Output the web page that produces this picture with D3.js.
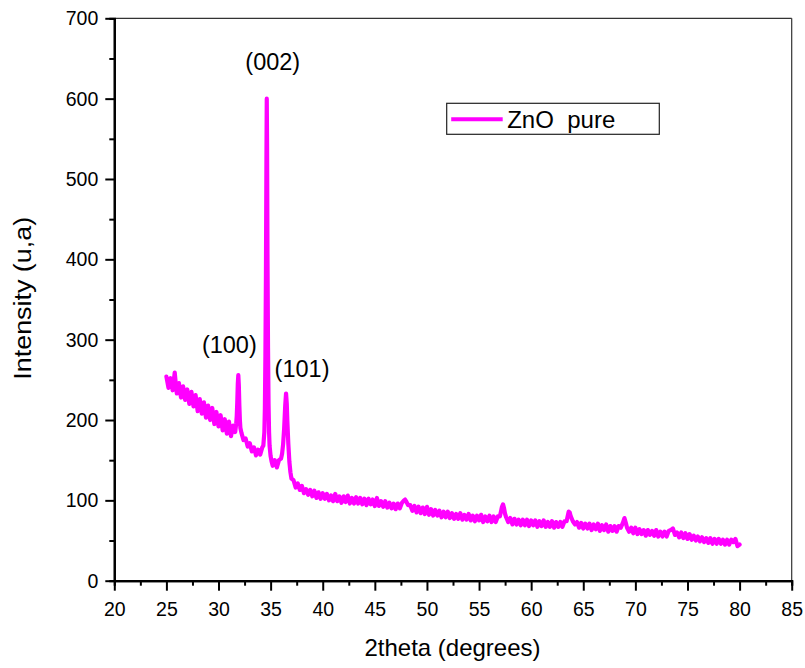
<!DOCTYPE html>
<html>
<head>
<meta charset="utf-8">
<script src="https://cdn.jsdelivr.net/npm/d3@7"></script>
<style>
  html, body { margin: 0; padding: 0; background: #fff; }
  svg { display: block; font-family: "Liberation Sans", Arial, sans-serif; }
</style>
</head>
<body>
<svg id="chart" width="805" height="668"></svg>
<script>
// XRD scan of pure ZnO: [2theta (deg), intensity (a.u.)]
const scan = [
  [25.0,254],[25.2,240],[25.4,252],[25.6,237],[25.8,259],[25.9,245],[26.0,233],[26.2,246],[26.4,228],[26.6,242],
  [26.8,225],[27.0,238],[27.2,220],[27.4,235],[27.6,217],[27.8,231],[28.0,211],[28.2,226],[28.4,208],[28.6,222],
  [28.8,203],[29.0,218],[29.2,200],[29.4,215],[29.6,195],[29.8,210],[30.0,192],[30.2,206],[30.4,187],[30.6,201],
  [30.8,183],[31.0,198],[31.2,180],[31.4,193],[31.6,185],
  // (100)
  [31.7,196],[31.75,205],[31.8,222],[31.85,245],[31.9,256],[31.95,243],[32.0,218],[32.05,200],[32.1,190],
  [32.2,184],[32.4,175],[32.6,177],[32.8,167],[33.0,171],[33.2,161],[33.4,166],[33.6,156],[33.8,163],[34.0,157],
  [34.2,166],[34.3,168],
  // (002)
  [34.4,185],[34.45,215],[34.5,280],[34.55,380],[34.6,530],[34.63,600],[34.66,540],[34.7,400],[34.75,290],
  [34.8,220],[34.85,185],[34.9,168],[35.0,155],[35.1,148],[35.2,143],[35.4,150],[35.6,141],[35.8,150],[36.0,152],
  // (101)
  [36.1,158],[36.2,170],[36.3,190],[36.4,218],[36.48,233],[36.55,220],[36.6,200],[36.7,170],[36.8,148],[36.9,135],
  [37.0,127],[37.2,125],[37.4,116],[37.6,121],[37.8,113],[38.0,118],[38.2,109],[38.4,114],[38.6,107],[38.8,113],
  [39.0,105],[39.2,112],[39.4,103],[39.6,110],[39.8,102],[40.0,109],[40.2,102],[40.4,108],[40.6,100],[40.8,106],
  [41.0,99],[41.2,108],[41.4,99],[41.6,105],[41.8,97],[42.0,105],[42.2,98],[42.4,106],[42.6,96],[42.8,103],
  [43.0,96],[43.2,104],[43.4,96],[43.6,103],[43.8,95],[44.0,102],[44.2,94],[44.4,102],[44.6,95],[44.8,101],
  [45.0,93],[45.2,103],[45.4,93],[45.6,99],[45.8,92],[46.0,99],[46.2,91],[46.4,97],[46.6,90],[46.8,96],
  [47.0,89],[47.2,96],[47.4,90],[47.6,97],[47.8,100],[47.9,101],[48.0,99],[48.2,94],[48.4,94],[48.6,87],
  [48.8,93],[49.0,85],[49.2,92],[49.4,84],[49.6,91],[49.8,83],[50.0,92],[50.2,82],[50.4,89],[50.6,81],
  [50.8,88],[51.0,81],[51.2,87],[51.4,79],[51.6,86],[51.8,79],[52.0,86],[52.2,78],[52.4,84],[52.6,77],
  [52.8,83],[53.0,77],[53.2,84],[53.4,76],[53.6,82],[53.8,76],[54.0,83],[54.2,75],[54.4,81],[54.6,74],
  [54.8,81],[55.0,75],[55.2,82],[55.4,73],[55.6,80],[55.8,74],[56.0,81],[56.2,73],[56.4,80],[56.6,73],
  [56.8,80],[57.0,80],[57.1,86],[57.2,92],[57.3,95],[57.4,90],[57.5,83],[57.6,79],[57.8,73],[58.0,78],
  [58.2,70],[58.4,77],[58.6,70],[58.8,76],[59.0,69],[59.2,76],[59.4,69],[59.6,76],[59.8,68],[60.0,75],
  [60.2,69],[60.4,75],[60.6,67],[60.8,74],[61.0,68],[61.2,75],[61.4,67],[61.6,73],[61.8,67],[62.0,74],
  [62.2,66],[62.4,73],[62.6,67],[62.8,73],[63.0,67],[63.2,74],[63.4,74],[63.5,80],[63.6,86],[63.7,85],
  [63.8,80],[64.0,74],[64.2,70],[64.4,73],[64.6,66],[64.8,72],[65.0,65],[65.2,71],[65.4,65],[65.6,71],
  [65.8,63],[66.0,70],[66.2,64],[66.4,71],[66.6,62],[66.8,69],[67.0,63],[67.2,70],[67.4,61],[67.6,68],
  [67.8,62],[68.0,68],[68.2,61],[68.4,68],[68.6,66],[68.8,72],[68.95,78],[69.1,71],[69.2,66],[69.4,61],
  [69.6,66],[69.8,59],[70.0,66],[70.2,58],[70.4,64],[70.6,58],[70.8,63],[71.0,56],[71.2,63],[71.4,57],
  [71.6,62],[71.8,56],[72.0,63],[72.2,55],[72.4,61],[72.6,55],[72.8,61],[73.0,55],[73.2,62],[73.4,63],
  [73.6,65],[73.8,57],[74.0,60],[74.2,54],[74.4,60],[74.6,53],[74.8,59],[75.0,52],[75.2,58],[75.4,51],
  [75.6,56],[75.8,50],[76.0,55],[76.2,49],[76.4,54],[76.6,48],[76.8,53],[77.0,47],[77.2,53],[77.4,46],
  [77.6,52],[77.8,46],[78.0,52],[78.2,46],[78.4,51],[78.6,45],[78.8,51],[79.0,45],[79.2,51],[79.4,48],
  [79.6,52],[79.8,43],[80.0,45]
];

const xTicks = [20, 25, 30, 35, 40, 45, 50, 55, 60, 65, 70, 75, 80, 85];
const yTicks = [0, 100, 200, 300, 400, 500, 600, 700];
const peakLabels = [
  { text: "(100)", x: 31.9, y: 256 },
  { text: "(002)", x: 34.63, y: 600 },
  { text: "(101)", x: 36.48, y: 233 }
];
const seriesName = "ZnO  pure";

const svg = d3.select("#chart");
const plotL = 114.3, plotR = 791.7, plotT = 18.3, plotB = 580.7;

const x = d3.scaleLinear().domain([20, 85]).range([plotL, plotR]);
const y = d3.scaleLinear().domain([0, 700]).range([plotB, plotT]);

// frame: thin top/right
svg.append("line").attr("x1", plotL).attr("x2", plotR).attr("y1", plotT).attr("y2", plotT)
  .attr("stroke", "#333").attr("stroke-width", 1.2);
svg.append("line").attr("x1", plotR).attr("x2", plotR).attr("y1", plotT).attr("y2", plotB)
  .attr("stroke", "#333").attr("stroke-width", 1.2);

// data line
const line = d3.line().x(d => x(d[0])).y(d => y(d[1]));
svg.append("path").datum(scan)
  .attr("fill", "none").attr("stroke", "#ff00ff").attr("stroke-width", 4.2)
  .attr("stroke-linejoin", "round").attr("stroke-linecap", "round")
  .attr("d", line);

// x axis
const xMinor = d3.range(22.5, 85, 5);
const gxMinor = svg.append("g").attr("transform", `translate(0,${plotB})`)
  .call(d3.axisBottom(x).tickValues(xMinor).tickSize(5).tickFormat(""));
const gx = svg.append("g").attr("transform", `translate(0,${plotB})`)
  .call(d3.axisBottom(x).tickValues(xTicks).tickSize(10).tickSizeOuter(0));
gx.selectAll("text").attr("y", 0).attr("dy", 0).attr("transform", "translate(0,35.5)")
  .attr("font-size", 19.5).attr("fill", "#000").attr("font-family", "Liberation Sans, Arial, sans-serif");

// y axis
const yMinor = d3.range(50, 700, 100);
const gyMinor = svg.append("g").attr("transform", `translate(${plotL},0)`)
  .call(d3.axisLeft(y).tickValues(yMinor).tickSize(5).tickFormat(""));
const gy = svg.append("g").attr("transform", `translate(${plotL},0)`)
  .call(d3.axisLeft(y).tickValues(yTicks).tickSize(9).tickSizeOuter(0));
gy.selectAll("text").attr("x", -16).attr("dy", "0.34em")
  .attr("font-size", 19.5).attr("fill", "#000").attr("font-family", "Liberation Sans, Arial, sans-serif");

[gx, gy, gxMinor, gyMinor].forEach(g => {
  g.select(".domain").attr("stroke", "#000").attr("stroke-width", 2.2);
  g.selectAll(".tick line").attr("stroke", "#000").attr("stroke-width", 2);
});

// axis titles
svg.append("text").attr("x", (plotL + plotR) / 2 - 0.5).attr("y", 656)
  .attr("text-anchor", "middle").attr("font-size", 24).attr("fill", "#000")
  .text("2theta (degrees)");
svg.append("text").attr("transform", "translate(30.5,298.3) rotate(-90) scale(1.12,1)")
  .attr("text-anchor", "middle").attr("font-size", 24).attr("fill", "#000")
  .text("Intensity (u,a)");

// peak annotations (Miller indices)
const labelOffsets = { "(100)": [-9, -22], "(002)": [6, -29], "(101)": [16, -17] };
svg.selectAll(".peak").data(peakLabels).join("text")
  .attr("class", "peak")
  .attr("x", d => x(d.x) + labelOffsets[d.text][0])
  .attr("y", d => y(d.y) + labelOffsets[d.text][1])
  .attr("text-anchor", "middle").attr("font-size", 23.5).attr("fill", "#000")
  .text(d => d.text);

// legend
const lg = svg.append("g").attr("transform", "translate(446.7,103.3)");
lg.append("rect").attr("width", 212.6).attr("height", 31)
  .attr("fill", "#fff").attr("stroke", "#222").attr("stroke-width", 1.2);
lg.append("line").attr("x1", 4.5).attr("x2", 56).attr("y1", 16).attr("y2", 16)
  .attr("stroke", "#ff00ff").attr("stroke-width", 4);
lg.append("text").attr("x", 60.5).attr("y", 24.5)
  .attr("font-size", 24).attr("fill", "#000")
  .style("white-space", "pre")
  .text(seriesName);
</script>
</body>
</html>
